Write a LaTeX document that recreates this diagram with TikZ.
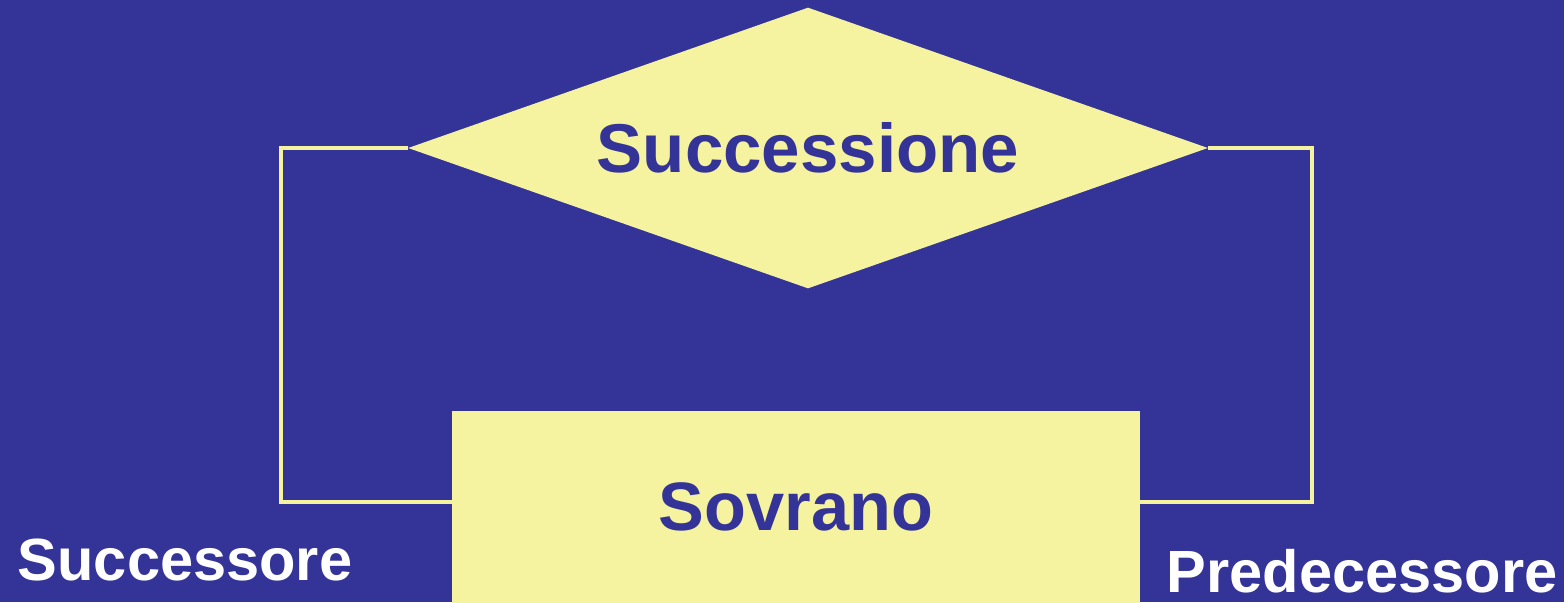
\documentclass[tikz,border=0pt]{standalone}
\usepackage{fontspec}
\setmainfont{Liberation Sans}
\usetikzlibrary{shapes.geometric,positioning,calc}
\definecolor{erblue}{HTML}{343498}
\definecolor{eryellow}{HTML}{F5F3A0}

\begin{document}
\begin{tikzpicture}[
    x=0.02cm, y=-0.02cm,
    relation/.style={diamond, aspect=2.847, fill=eryellow, inner sep=0pt, minimum width=16cm, minimum height=5.62cm, font=\bfseries\fontsize{39.3}{45}\selectfont, text=erblue},
    entity/.style={rectangle, fill=eryellow, inner sep=0pt, minimum width=13.76cm, minimum height=3.84cm, font=\bfseries\fontsize{39}{45}\selectfont, text=erblue},
    role/.style={anchor=base, font=\bfseries\fontsize{33.9}{40}\selectfont, text=white},
    link/.style={draw=eryellow, line width=2.3pt}
]

% background
\fill[erblue] (0,0) rectangle (1564,602);
\useasboundingbox (0,0) rectangle (1564,602);

% relationship and entity
\node[relation] (succ) at (808,148) {Successione};
\node[entity] (sov) at (796,507) {Sovrano};

% ring of the recursive relationship
\coordinate (lc) at (281,502);
\coordinate (rc) at (1312,502);
\draw[link] (succ.west) -| (lc) -- (lc -| sov.west);
\draw[link] (succ.east) -| (rc) -- (rc -| sov.east);

% role names
\node[role] (rsucc) at (185,580) {Successore};
\node[role] (rpred) at (1362,592) {Predecessore};

\end{tikzpicture}
\end{document}
